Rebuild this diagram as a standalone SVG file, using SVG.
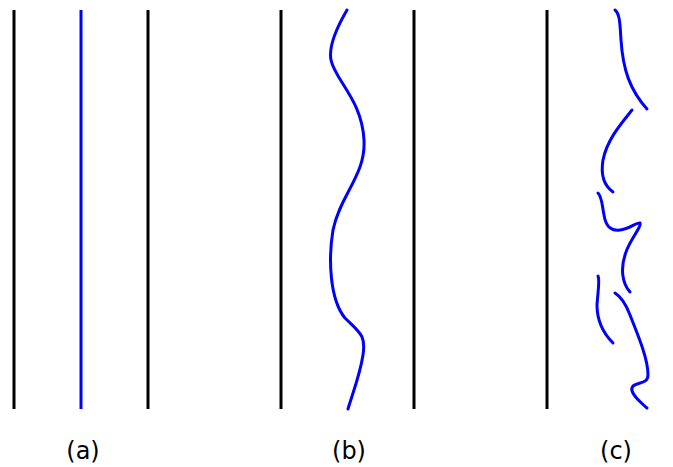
<svg xmlns="http://www.w3.org/2000/svg" width="673" height="467" viewBox="0 0 673 467">
<style>
.wall{stroke:#000;stroke-width:3;fill:none}
.flow{stroke:#0000ff;stroke-width:3;fill:none;stroke-linecap:round}
.lbl{font-family:"DejaVu Sans",sans-serif;font-size:24px;text-anchor:middle;fill:#000}
</style>
<rect width="673" height="467" fill="#fff"/>
<g id="panel-a">
<line class="wall" x1="14" y1="10" x2="14" y2="409"/>
<line class="wall" x1="148" y1="10" x2="148" y2="409"/>
<line x1="81" y1="10" x2="81" y2="409" stroke="#0000ff" stroke-width="3"/>
<text class="lbl" x="83" y="459">(a)</text>
</g>
<g id="panel-b">
<line class="wall" x1="281" y1="10" x2="281" y2="409"/>
<line class="wall" x1="414" y1="10" x2="414" y2="409"/>
<path class="flow" d="M347,10 C340,22 328,45 331,60 C335,80 362,100 364,140 C366,175 340,195 333,230 C328,260 330,300 345,318 C360,333 366,335 363,355 C360,375 352,395 348,409"/>
<text class="lbl" x="349" y="459">(b)</text>
</g>
<g id="panel-c">
<line class="wall" x1="547" y1="10" x2="547" y2="409"/>
<path class="flow" d="M615,10 C620,14 620,25 621,40 C623,70 630,90 647,109"/>
<path class="flow" d="M632,110 C620,125 607,140 603,160 C600,178 606,187 613,192"/>
<path class="flow" d="M598,193 C602,197 602,205 604,215 C606,228 612,231 620,230 C630,229 636,222 640,223 C642,226 630,240 626,252 C620,268 622,283 630,292"/>
<path class="flow" d="M598,276 C600,280 598,290 597,305 C597,322 603,333 613,343"/>
<path class="flow" d="M615,293 C620,296 625,302 630,315 C640,340 648,360 648,375 C648,384 638,382 633,386 C628,392 640,402 647,408"/>
<text class="lbl" x="616" y="459">(c)</text>
</g>
</svg>
